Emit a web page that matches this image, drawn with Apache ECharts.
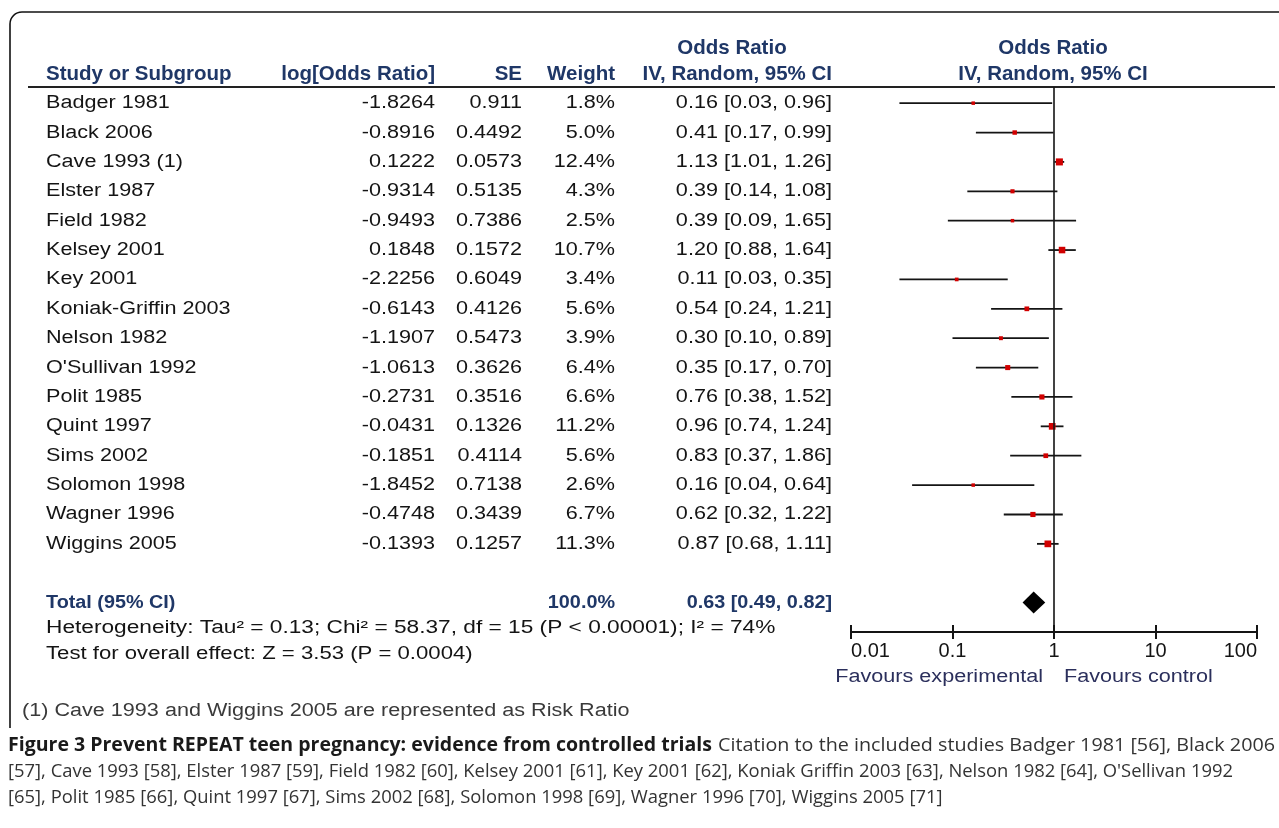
<!DOCTYPE html>
<html><head><meta charset="utf-8">
<script src="https://cdn.jsdelivr.net/npm/echarts@6/dist/echarts.min.js"></script>
<style>html,body{margin:0;padding:0;background:#fff;}#c{width:1279px;height:828px;}</style>
</head><body><div id="c"></div>
<script>
// ---------------- data ----------------
const studies = ['Badger 1981','Black 2006','Cave 1993 (1)','Elster 1987','Field 1982','Kelsey 2001','Key 2001','Koniak-Griffin 2003','Nelson 1982',"O'Sullivan 1992",'Polit 1985','Quint 1997','Sims 2002','Solomon 1998','Wagner 1996','Wiggins 2005'];
const logOR = [-1.8264,-0.8916,0.1222,-0.9314,-0.9493,0.1848,-2.2256,-0.6143,-1.1907,-1.0613,-0.2731,-0.0431,-0.1851,-1.8452,-0.4748,-0.1393];
const se = [0.911,0.4492,0.0573,0.5135,0.7386,0.1572,0.6049,0.4126,0.5473,0.3626,0.3516,0.1326,0.4114,0.7138,0.3439,0.1257];
const weight = [1.8,5.0,12.4,4.3,2.5,10.7,3.4,5.6,3.9,6.4,6.6,11.2,5.6,2.6,6.7,11.3];
const oddsRatio = [0.16,0.41,1.13,0.39,0.39,1.20,0.11,0.54,0.30,0.35,0.76,0.96,0.83,0.16,0.62,0.87];
const ciLow = [0.03,0.17,1.01,0.14,0.09,0.88,0.03,0.24,0.10,0.17,0.38,0.74,0.37,0.04,0.32,0.68];
const ciHigh = [0.96,0.99,1.26,1.08,1.65,1.64,0.35,1.21,0.89,0.70,1.52,1.24,1.86,0.64,1.22,1.11];
const totalLabel = 'Total (95% CI)';
const totalWeight = 100.0;
const totalOR = 0.63, totalLow = 0.49, totalHigh = 0.82;
const xTicks = [0.01, 0.1, 1, 10, 100];
const headers1 = ['Odds Ratio','Odds Ratio'];
const headers2 = ['Study or Subgroup','log[Odds Ratio]','SE','Weight','IV, Random, 95% CI','IV, Random, 95% CI'];
const heterogeneity = 'Heterogeneity: Tau\u00b2 = 0.13; Chi\u00b2 = 58.37, df = 15 (P < 0.00001); I\u00b2 = 74%';
const overall = 'Test for overall effect: Z = 3.53 (P = 0.0004)';
const favours = ['Favours experimental','Favours control'];
const footnote = '(1) Cave 1993 and Wiggins 2005 are represented as Risk Ratio';
const captionBold = 'Figure 3 Prevent REPEAT teen pregnancy: evidence from controlled trials';
const captionLines = ['Citation to the included studies Badger 1981 [56], Black 2006',
  "[57], Cave 1993 [58], Elster 1987 [59], Field 1982 [60], Kelsey 2001 [61], Key 2001 [62], Koniak Griffin 2003 [63], Nelson 1982 [64], O'Sellivan 1992",
  '[65], Polit 1985 [66], Quint 1997 [67], Sims 2002 [68], Solomon 1998 [69], Wagner 1996 [70], Wiggins 2005 [71]'];

// ---------------- styles ----------------
const FF = '"Liberation Sans", Arial, sans-serif';
const DATA_FONT = '18px ' + FF;
const TOTAL_FONT = 'bold 18px ' + FF;
const HEAD_FONT = 'bold 20.5px ' + FF;
const SX = 1.2;
const NAVY = '#1f3767';
const INK = '#141414';
const TOTAL_ROW = 17;
const Y_MIN = -0.55, Y_MAX = 18;
const GRID_TOP = 87, GRID_H = 545;

function T(x, y, text, font, fill, align, sx) {
  return {type:'text', x:x, y:y, scaleX: sx || 1, style:{text:text, font:font, fill:fill, align:align || 'left', verticalAlign:'middle'}};
}
const ciText = (o,l,h) => o.toFixed(2) + ' [' + l.toFixed(2) + ', ' + h.toFixed(2) + ']';

const cv = document.createElement('canvas').getContext('2d');
const CAP_FONT = '19px "Open Sans", sans-serif';
const CAP_BOLD = 'bold 19px "Open Sans", sans-serif';
cv.font = CAP_BOLD; const capBoldSX = (712 - 8) / cv.measureText(captionBold).width;
cv.font = CAP_FONT; const capSX1 = (1275 - 718) / cv.measureText(captionLines[0]).width;
const capSX = (1233 - 8) / cv.measureText(captionLines[1]).width;

const chart = echarts.init(document.getElementById('c'));

const graphic = [
  {type:'line', shape:{x1:22, y1:12, x2:1290, y2:12}, style:{stroke:'#111', lineWidth:1.6}},
  {type:'arc', shape:{cx:22, cy:24, r:12, startAngle:Math.PI, endAngle:Math.PI*1.5, clockwise:true}, style:{stroke:'#111', lineWidth:1.6, fill:null}},
  {type:'line', shape:{x1:10, y1:24, x2:10, y2:728}, style:{stroke:'#111', lineWidth:1.6}},
  {type:'line', shape:{x1:28, y1:87, x2:1275, y2:87}, style:{stroke:'#222', lineWidth:2}},
  T(732, 48, headers1[0], HEAD_FONT, NAVY, 'center'),
  T(1053, 48, headers1[1], HEAD_FONT, NAVY, 'center'),
  T(46, 74, headers2[0], HEAD_FONT, NAVY, 'left'),
  T(435, 74, headers2[1], HEAD_FONT, NAVY, 'right'),
  T(522, 74, headers2[2], HEAD_FONT, NAVY, 'right'),
  T(615, 74, headers2[3], HEAD_FONT, NAVY, 'right'),
  T(832, 74, headers2[4], HEAD_FONT, NAVY, 'right'),
  T(1053, 74, headers2[5], HEAD_FONT, NAVY, 'center'),
  T(46, 628, heterogeneity, DATA_FONT, INK, 'left', 1.26),
  T(46, 654, overall, DATA_FONT, INK, 'left', 1.23),
  T(1043, 677, favours[0], DATA_FONT, '#2b2f5c', 'right', SX),
  T(1064, 677, favours[1], DATA_FONT, '#2b2f5c', 'left', SX),
  T(22, 711, footnote, DATA_FONT, '#3a3a3a', 'left', SX),
  {type:'text', x:8, y:746, scaleX:capBoldSX, style:{text:captionBold, font:CAP_BOLD, fill:'#1a1a1a', verticalAlign:'middle'}},
  {type:'text', x:718, y:746, scaleX:capSX1, style:{text:captionLines[0], font:CAP_FONT, fill:'#333', verticalAlign:'middle'}},
  {type:'text', x:8, y:772, scaleX:capSX, style:{text:captionLines[1], font:CAP_FONT, fill:'#333', verticalAlign:'middle'}},
  {type:'text', x:8, y:798, scaleX:capSX, style:{text:captionLines[2], font:CAP_FONT, fill:'#333', verticalAlign:'middle'}}
];

const logAxisBase = {type:'log', logBase:10, min:xTicks[0], max:xTicks[xTicks.length-1], gridIndex:0, position:'bottom', splitLine:{show:false}};

const option = {
  animation:false,
  backgroundColor:'#fff',
  grid:[
    {left:851, right:1279-1257, top:GRID_TOP, height:GRID_H},
    {left:0, width:850, top:GRID_TOP, height:GRID_H}
  ],
  xAxis:[
    Object.assign({}, logAxisBase, {
      axisLine:{show:true, onZero:false, lineStyle:{color:INK, width:2}},
      axisTick:{show:true, length:7, lineStyle:{color:INK, width:2}},
      axisLabel:{show:true, color:INK, fontFamily:'Liberation Sans, Arial', fontSize:20, margin:9,
        alignMinLabel:'left', alignMaxLabel:'right',
        formatter: v => String(+(+v).toPrecision(3))}
    }),
    Object.assign({}, logAxisBase, {
      axisLine:{show:false, onZero:false},
      axisTick:{show:true, inside:true, length:7, lineStyle:{color:INK, width:2}},
      axisLabel:{show:false}
    }),
    {type:'value', gridIndex:1, min:0, max:1, show:false}
  ],
  yAxis:[
    {type:'value', gridIndex:0, min:Y_MIN, max:Y_MAX, inverse:true, show:false},
    {type:'value', gridIndex:1, min:Y_MIN, max:Y_MAX, inverse:true, show:false}
  ],
  graphic: graphic,
  series:[
    {
      type:'scatter', xAxisIndex:0, yAxisIndex:0, symbolSize:0, data:[[totalOR, TOTAL_ROW]], silent:true,
      markLine:{silent:true, symbol:['none','none'], label:{show:false}, lineStyle:{color:INK, width:1.6, type:'solid'},
        data:[{xAxis:1}]}
    },
    {
      type:'custom', xAxisIndex:0, yAxisIndex:0, clip:false,
      data: studies.map((s,i) => [oddsRatio[i], ciLow[i], ciHigh[i], i, weight[i]]),
      encode:{x:0, y:3},
      renderItem:(params, api) => {
        const yv = api.value(3);
        const pL = api.coord([api.value(1), yv]);
        const pH = api.coord([api.value(2), yv]);
        const pO = api.coord([api.value(0), yv]);
        const side = Math.max(3.5, 2 * Math.sqrt(api.value(4)));
        return {type:'group', children:[
          {type:'line', shape:{x1:pL[0], y1:pL[1], x2:pH[0], y2:pH[1]}, style:{stroke:INK, lineWidth:1.8}},
          {type:'rect', shape:{x:pO[0]-side/2, y:pO[1]-side/2, width:side, height:side}, style:{fill:'#d10000'}}
        ]};
      }
    },
    {
      type:'custom', xAxisIndex:0, yAxisIndex:0, clip:false,
      data:[[totalOR, totalLow, totalHigh, TOTAL_ROW]],
      encode:{x:0, y:3},
      renderItem:(params, api) => {
        const yv = api.value(3);
        const pL = api.coord([api.value(1), yv]);
        const pH = api.coord([api.value(2), yv]);
        const pO = api.coord([api.value(0), yv]);
        return {type:'polygon', shape:{points:[[pL[0], pL[1]], [pO[0], pO[1]-11], [pH[0], pH[1]], [pO[0], pO[1]+11]]}, style:{fill:'#000'}};
      }
    },
    {
      type:'custom', xAxisIndex:2, yAxisIndex:1, clip:false,
      data: studies.map((s,i) => [0, i]),
      encode:{x:0, y:1},
      renderItem:(params, api) => {
        const i = params.dataIndex;
        const y = api.coord([0, api.value(1)])[1];
        return {type:'group', children:[
          T(46, y, studies[i], DATA_FONT, INK, 'left', SX),
          T(435, y, String(logOR[i]), DATA_FONT, INK, 'right', SX),
          T(522, y, String(se[i]), DATA_FONT, INK, 'right', SX),
          T(615, y, weight[i].toFixed(1) + '%', DATA_FONT, INK, 'right', SX),
          T(832, y, ciText(oddsRatio[i], ciLow[i], ciHigh[i]), DATA_FONT, INK, 'right', SX)
        ]};
      }
    },
    {
      type:'custom', xAxisIndex:2, yAxisIndex:1, clip:false,
      data:[[0, TOTAL_ROW]],
      encode:{x:0, y:1},
      renderItem:(params, api) => {
        const y = api.coord([0, api.value(1)])[1];
        return {type:'group', children:[
          T(46, y, totalLabel, TOTAL_FONT, NAVY, 'left', 1.1),
          T(615, y, totalWeight.toFixed(1) + '%', TOTAL_FONT, NAVY, 'right', 1.1),
          T(832, y, ciText(totalOR, totalLow, totalHigh), TOTAL_FONT, NAVY, 'right', 1.1)
        ]};
      }
    }
  ]
};
chart.setOption(option);
</script>
</body></html>
